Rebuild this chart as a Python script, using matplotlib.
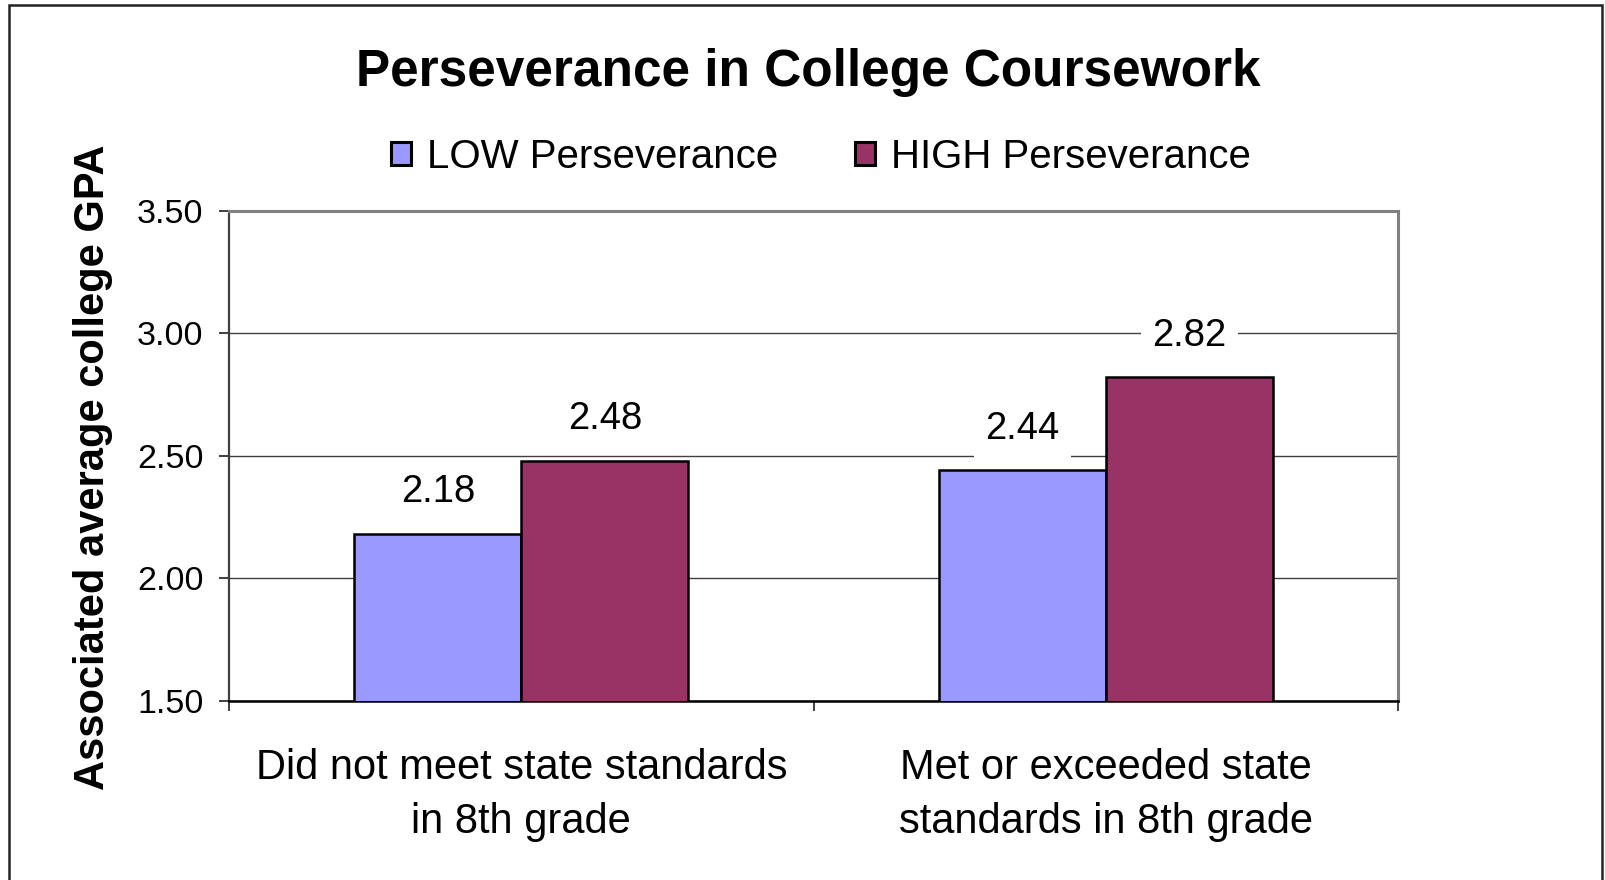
import numpy as np
import matplotlib
matplotlib.use('Agg')
import matplotlib.pyplot as plt
from matplotlib.patches import Rectangle

plt.rcParams['font.family'] = ['Liberation Sans', 'DejaVu Sans']

# dati
categories = ['Did not meet state standards\nin 8th grade',
              'Met or exceeded state\nstandards in 8th grade']
series_names = ['LOW Perseverance', 'HIGH Perseverance']
low_values = [2.18, 2.44]
high_values = [2.48, 2.82]
y_ticks = [1.50, 2.00, 2.50, 3.00, 3.50]

colors = ['#9999FF', '#993366']

fig = plt.figure(figsize=(16.06, 8.80), dpi=100)
ax = fig.add_axes([0.1426, 0.2037, 0.7279, 0.5569])

x = np.arange(len(categories))
w = 1 / 3.5

bars_low = ax.bar(x - w / 2, low_values, w, color=colors[0],
                  edgecolor='black', linewidth=1.8, label=series_names[0], zorder=3)
bars_high = ax.bar(x + w / 2, high_values, w, color=colors[1],
                   edgecolor='black', linewidth=1.8, label=series_names[1], zorder=3)

# etichette valori
for bars, vals in [(bars_low, low_values), (bars_high, high_values)]:
    for b, v in zip(bars, vals):
        ax.annotate(f'{v:.2f}', xy=(b.get_x() + b.get_width() / 2, v),
                    xytext=(0, 30), textcoords='offset points',
                    ha='center', va='center', fontsize=27.5, zorder=5,
                    bbox=dict(boxstyle='square,pad=0.3', fc='white', ec='none'))

ax.set_ylim(1.5, 3.5)
ax.set_xlim(-0.5, 1.5)
ax.set_yticks(y_ticks)
ax.set_yticklabels([f'{t:.2f}' for t in y_ticks], fontsize=24.5)
ax.yaxis.grid(True, color='#404040', linewidth=1.0, zorder=0)
ax.set_axisbelow(True)

ax.set_xticks(x)
ax.set_xticklabels(categories, fontsize=30, linespacing=1.45)
ax.set_xticks([-0.5, 0.5, 1.5], minor=True)
ax.tick_params(axis='x', which='major', length=0, pad=34)
ax.tick_params(axis='x', which='minor', length=7.5, width=1.2, direction='out', color='#202020')
ax.tick_params(axis='y', length=7.5, width=1.2, direction='out', pad=11, color='#202020')

ax.spines['top'].set_color('#808080')
ax.spines['top'].set_linewidth(2.2)
ax.spines['right'].set_color('#808080')
ax.spines['right'].set_linewidth(2.2)
ax.spines['left'].set_color('#404040')
ax.spines['left'].set_linewidth(1.6)
ax.spines['bottom'].set_color('black')
ax.spines['bottom'].set_linewidth(1.8)

ax.set_ylabel('Associated average college GPA', fontsize=30, fontweight='bold', va='center')
ax.yaxis.set_label_coords(-0.1164, 0.476)

fig.text(0.503, 0.918, 'Perseverance in College Coursework',
         ha='center', va='center', fontsize=37, fontweight='bold')

leg = fig.legend(loc='center', bbox_to_anchor=(0.511, 0.8215), ncol=2, frameon=False,
                 fontsize=29, handlelength=0.5, handleheight=0.5,
                 handletextpad=0.4, columnspacing=1.9)
for h in leg.legend_handles:
    h.set_linewidth(2.2)

# cornice esterna
fig.patches.append(Rectangle((8.5 / 1606, -0.05), 1594 / 1606, 1.05 - 5.5 / 880,
                             transform=fig.transFigure, fill=False,
                             edgecolor='#222222', linewidth=1.8))

fig.savefig('out.png', dpi=100)
